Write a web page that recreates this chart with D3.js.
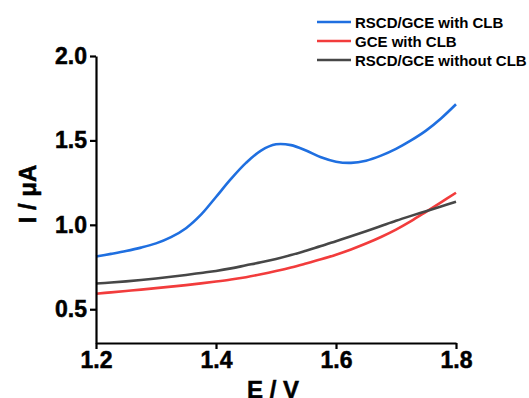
<!DOCTYPE html>
<html>
<head>
<meta charset="utf-8">
<script src="https://cdn.jsdelivr.net/npm/d3@7"></script>
<style>
	body { margin: 0; background: #fff; }
	svg { display: block; font-family: Arial, 'Liberation Sans', sans-serif; font-weight: bold; }
</style>
</head>
<body>
<svg id="chart" width="529" height="398"></svg>
<script>
"use strict";

// potential (V)
var potential = [1.200, 1.225, 1.250, 1.275, 1.300, 1.325, 1.350, 1.375, 1.400, 1.425, 1.450, 1.475, 1.500,
	1.525, 1.550, 1.575, 1.600, 1.625, 1.650, 1.675, 1.700, 1.725, 1.750, 1.775, 1.800];
// current (uA) for each electrode
var rscdWithClb = [0.812, 0.828, 0.845, 0.865, 0.890, 0.927, 0.980, 1.060, 1.165, 1.272, 1.367, 1.440, 1.477,
	1.472, 1.440, 1.400, 1.374, 1.367, 1.380, 1.410, 1.450, 1.500, 1.558, 1.630, 1.714];
var gceWithClb = [0.592, 0.600, 0.608, 0.616, 0.625, 0.634, 0.643, 0.653, 0.664, 0.676, 0.690, 0.707, 0.726,
	0.747, 0.771, 0.796, 0.823, 0.854, 0.889, 0.928, 0.972, 1.022, 1.077, 1.133, 1.190];
var rscdWithoutClb = [0.652, 0.658, 0.665, 0.673, 0.682, 0.692, 0.703, 0.715, 0.727, 0.742, 0.760, 0.778, 0.798,
	0.821, 0.847, 0.874, 0.903, 0.932, 0.962, 0.993, 1.024, 1.053, 1.081, 1.109, 1.137];

var xTicks = [1.2, 1.4, 1.6, 1.8];
var yTicks = [0.5, 1.0, 1.5, 2.0];

var series = [
	{ name: 'RSCD/GCE with CLB', color: '#1f6fe0', values: rscdWithClb },
	{ name: 'GCE with CLB', color: '#f23c3c', values: gceWithClb },
	{ name: 'RSCD/GCE without CLB', color: '#474747', values: rscdWithoutClb }
];

var svg = d3.select('#chart');
var margin = { top: 56, left: 96, right: 73, bottom: 55 };
var width = 529 - margin.left - margin.right;
var height = 398 - margin.top - margin.bottom;

var x = d3.scaleLinear().domain([1.2, 1.8]).range([0, width]);
var y = d3.scaleLinear().domain([0.3, 2.0]).range([height, 0]);

var g = svg.append('g')
	.attr('transform', 'translate(' + margin.left + ',' + margin.top + ')');

// curves
var line = d3.line()
	.x(function(d) { return x(d[0]); })
	.y(function(d) { return y(d[1]); })
	.curve(d3.curveCatmullRom.alpha(0.5));

g.selectAll('.trace')
	.data(series)
	.enter()
	.append('path')
	.attr('class', 'trace')
	.attr('fill', 'none')
	.attr('stroke', function(d) { return d.color; })
	.attr('stroke-width', 2.6)
	.attr('d', function(d) {
		return line(potential.map(function(p, i) { return [p, d.values[i]]; }));
	});

// axes
var xAxis = d3.axisBottom(x).tickValues(xTicks).tickFormat(d3.format('.1f'))
	.tickSize(6).tickSizeOuter(0).tickPadding(3);
var yAxis = d3.axisLeft(y).tickValues(yTicks).tickFormat(d3.format('.1f'))
	.tickSize(6).tickSizeOuter(0).tickPadding(3);

function styleAxis(sel) {
	sel.select('.domain').attr('stroke', '#000').attr('stroke-width', 2.2);
	sel.selectAll('.tick line').attr('stroke', '#000').attr('stroke-width', 2.2);
	sel.selectAll('.tick text')
		.attr('fill', '#000')
		.attr('stroke', '#000')
		.attr('stroke-width', 0.5)
		.style('font-size', '23px')
		.style('font-weight', 'bold')
		.style('font-family', 'Arial, "Liberation Sans", sans-serif');
}

g.append('g')
	.attr('transform', 'translate(0,' + height + ')')
	.call(xAxis)
	.call(styleAxis);

g.append('g')
	.call(yAxis)
	.call(styleAxis);

// axis titles
svg.append('text')
	.attr('x', margin.left + width / 2 - 3)
	.attr('y', 398)
	.attr('text-anchor', 'middle')
	.attr('stroke', '#000')
	.attr('stroke-width', 0.5)
	.style('font-size', '24px')
	.text('E / V');

svg.append('text')
	.attr('transform', 'translate(36,' + 194 + ') rotate(-90)')
	.attr('text-anchor', 'middle')
	.attr('stroke', '#000')
	.attr('stroke-width', 0.5)
	.style('font-size', '24px')
	.text('I / μA');

// legend
var legend = svg.append('g').attr('transform', 'translate(317,22)');
var items = legend.selectAll('.item')
	.data(series)
	.enter()
	.append('g')
	.attr('class', 'item')
	.attr('transform', function(d, i) { return 'translate(0,' + (i * 19) + ')'; });
items.append('line')
	.attr('x1', 0).attr('x2', 34)
	.attr('stroke', function(d) { return d.color; })
	.attr('stroke-width', 2.6);
items.append('text')
	.attr('x', 38)
	.attr('y', 5.5)
	.style('font-size', '15px')
	.text(function(d) { return d.name; });
</script>
</body>
</html>
